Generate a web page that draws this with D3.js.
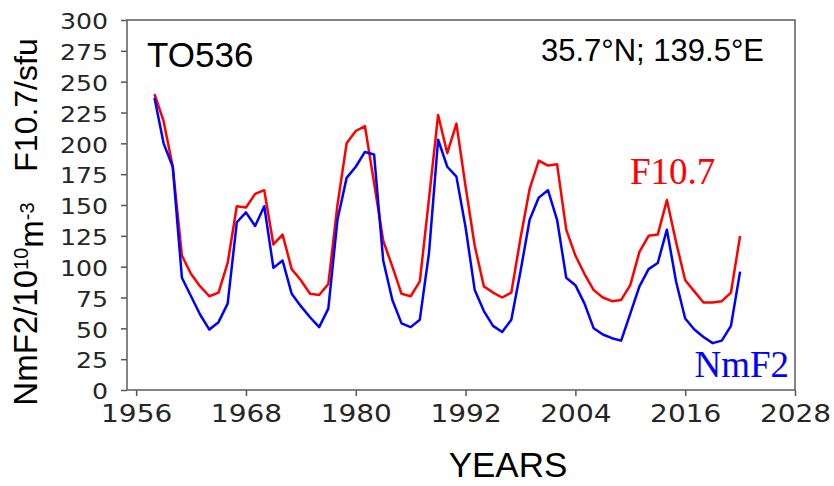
<!DOCTYPE html>
<html>
<head>
<meta charset="utf-8">
<script src="https://cdn.jsdelivr.net/npm/d3@7"></script>
<style>
  body { margin: 0; background: #fff; }
  svg { display: block; }
</style>
</head>
<body>
<script>
const years = d3.range(1958, 2023);

const f107 = [240, 218, 181, 109, 94, 84, 76, 79, 103, 149,
  148, 159, 162, 118, 126, 98, 89, 78, 77, 86,
  150, 200, 210, 214, 168, 121, 100, 78, 76, 88,
  155, 223, 192, 216, 165, 117, 84, 79, 75, 79,
  123, 163, 186, 182, 183, 130, 109, 94, 81, 75,
  72, 73, 85, 112, 125, 126, 154, 120, 89, 80,
  71, 71, 72, 79, 125];

const nmf2 = [237, 200, 181, 91, 76, 61, 49, 55, 70, 136,
  144, 133, 149, 99, 105, 78, 68, 59, 51, 66,
  138, 172, 181, 193, 191, 105, 73, 54, 51, 57,
  111, 203, 181, 173, 132, 81, 64, 52, 47, 57,
  96, 138, 156, 162, 138, 91, 85, 70, 50, 45,
  42, 40, 62, 84, 98, 103, 130, 88, 58, 49,
  43, 38, 40, 52, 96];

const xTicks = [1956, 1968, 1980, 1992, 2004, 2016, 2028];
const yTicks = d3.range(0, 301, 25);

const W = 834, H = 486;
const margin = {top: 20, right: 39, bottom: 96, left: 127};
const width = W - margin.left - margin.right;
const height = H - margin.top - margin.bottom;

const svg = d3.select("body").append("svg")
    .attr("width", W)
    .attr("height", H);

const g = svg.append("g")
    .attr("transform", `translate(${margin.left},${margin.top})`);

const x = d3.scaleLinear().domain([1955, 2028]).range([0, width]);
const y = d3.scaleLinear().domain([0, 300]).range([height, 0]);

// axes
const xAxis = g.append("g")
    .attr("transform", `translate(0,${height})`)
    .call(d3.axisBottom(x).tickValues(xTicks).tickFormat(d3.format("d")).tickSize(6).tickSizeOuter(0));
xAxis.selectAll("text")
    .attr("y", 0).attr("dy", 0)
    .attr("transform", "translate(0,32) scale(1.12,1)")
    .style("font-family", "DejaVu Sans")
    .style("font-size", "25px")
    .style("fill", "#262626");

const yAxis = g.append("g")
    .call(d3.axisLeft(y).tickValues(yTicks).tickSize(6).tickSizeOuter(0));
yAxis.selectAll("text")
    .attr("x", -19 / 1.2)
    .attr("dy", "0.42em")
    .attr("transform", "scale(1.2,1)")
    .style("font-family", "DejaVu Sans")
    .style("font-size", "21px")
    .style("fill", "#262626");

svg.selectAll(".tick line").attr("stroke", "#555").attr("stroke-width", 1.5);
svg.selectAll(".domain").remove();

// frame
g.append("rect")
    .attr("x", 0).attr("y", 0)
    .attr("width", width).attr("height", height)
    .attr("fill", "none")
    .attr("stroke", "#666")
    .attr("stroke-width", 1.6);

// lines
const line = (vals) => d3.line()
    .x((d, i) => x(years[i]))
    .y(d => y(d))(vals);

g.append("path")
    .attr("d", line(f107))
    .attr("fill", "none")
    .attr("stroke", "#ff0000")
    .attr("stroke-width", 2.5)
    .attr("stroke-linejoin", "round");

g.append("path")
    .attr("d", line(nmf2))
    .attr("fill", "none")
    .attr("stroke", "#0000ff")
    .attr("stroke-width", 2.5)
    .attr("stroke-linejoin", "round");

// annotations
svg.append("text")
    .attr("x", 147).attr("y", 67)
    .style("font-family", "Liberation Sans, Arial")
    .style("font-size", "35px")
    .text("TO536");

svg.append("text")
    .attr("x", 764).attr("y", 61)
    .attr("text-anchor", "end")
    .style("font-family", "Liberation Sans, Arial")
    .style("font-size", "31px")
    .text("35.7°N; 139.5°E");

svg.append("text")
    .attr("x", 630).attr("y", 184)
    .style("font-family", "Liberation Serif, Times New Roman")
    .style("font-size", "37px")
    .style("fill", "#ff0000")
    .text("F10.7");

svg.append("text")
    .attr("x", 789).attr("y", 377)
    .attr("text-anchor", "end")
    .style("font-family", "Liberation Serif, Times New Roman")
    .style("font-size", "37px")
    .style("fill", "#0000ff")
    .text("NmF2");

svg.append("text")
    .attr("x", 508).attr("y", 477)
    .attr("text-anchor", "middle")
    .style("font-family", "Liberation Sans, Arial")
    .style("font-size", "35px")
    .text("YEARS");

// y labels
svg.append("text")
    .attr("transform", "translate(37,105) rotate(-90)")
    .attr("text-anchor", "middle")
    .style("font-family", "Liberation Sans, Arial")
    .style("font-size", "32px")
    .text("F10.7/sfu");

const yl = svg.append("text")
    .attr("transform", "translate(37,304) rotate(-90)")
    .attr("text-anchor", "middle")
    .style("font-family", "Liberation Sans, Arial")
    .style("font-size", "33px");
yl.append("tspan").text("NmF2/10");
yl.append("tspan").attr("dy", "-0.45em").style("font-size", "20px").text("10");
yl.append("tspan").attr("dy", "0.45em").text("m");
yl.append("tspan").attr("dy", "-0.45em").style("font-size", "20px").text("-3");
</script>
</body>
</html>
